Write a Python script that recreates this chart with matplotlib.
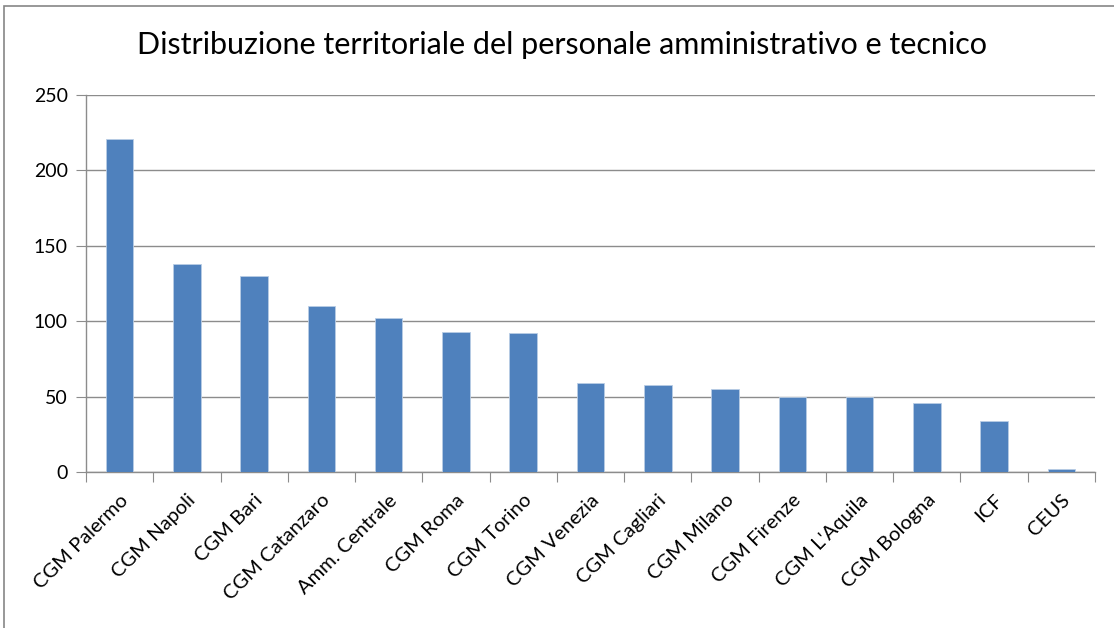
import matplotlib.pyplot as plt
from matplotlib.patches import Rectangle
import numpy as np

# Personale per sede
sedi = ['CGM Palermo', 'CGM Napoli', 'CGM Bari', 'CGM Catanzaro', 'Amm. Centrale',
        'CGM Roma', 'CGM Torino', 'CGM Venezia', 'CGM Cagliari', 'CGM Milano',
        'CGM Firenze', "CGM L'Aquila", 'CGM Bologna', 'ICF', 'CEUS']
personale = [221, 138, 130, 110, 102, 93, 92, 59, 58, 55, 50, 50, 46, 34, 2]
y_ticks = [0, 50, 100, 150, 200, 250]

plt.rcParams['font.family'] = ['Lato', 'DejaVu Sans']

fig = plt.figure(figsize=(11.14, 6.28), dpi=100)
ax = fig.add_axes([86 / 1114, 1 - 472 / 628, (1095 - 86) / 1114, (472 - 95) / 628])

x = np.arange(len(sedi))
ax.bar(x, personale, width=0.41, color='#4F81BD', edgecolor='#B9CDE5', linewidth=0.6, zorder=3)

ax.set_xlim(-0.5, len(sedi) - 0.5)
ax.set_ylim(0, 250)
ax.set_yticks(y_ticks)
ax.yaxis.grid(True, color='#8C8C8C', linewidth=1.0, zorder=0)

# tacche dell'asse x tra le categorie, etichette al centro
ax.set_xticks(np.arange(len(sedi) + 1) - 0.5)
ax.set_xticklabels([])
ax.set_xticks(x, minor=True)
ax.set_xticklabels(sedi, minor=True, rotation=45, ha='right', va='top',
                   rotation_mode='anchor', fontsize=14.5)
ax.tick_params(axis='x', which='minor', length=0, pad=14)
ax.tick_params(axis='x', which='major', length=7, color='#8C8C8C')
ax.tick_params(axis='y', length=7, color='#8C8C8C', labelsize=14, pad=6)

for side in ['top', 'right']:
    ax.spines[side].set_visible(False)
for side in ['left', 'bottom']:
    ax.spines[side].set_color('#8C8C8C')
    ax.spines[side].set_linewidth(1.0)

fig.text(562 / 1114, 1 - 45 / 628, 'Distribuzione territoriale del personale amministrativo e tecnico',
         ha='center', va='center', fontsize=22)

# cornice del grafico
fig.patches.append(Rectangle((4 / 1114, -0.02), 1.0, 1 - 6 / 628 + 0.02, transform=fig.transFigure,
                             fill=False, edgecolor='#868686', linewidth=1.2))

fig.savefig('out.png', dpi=100)
